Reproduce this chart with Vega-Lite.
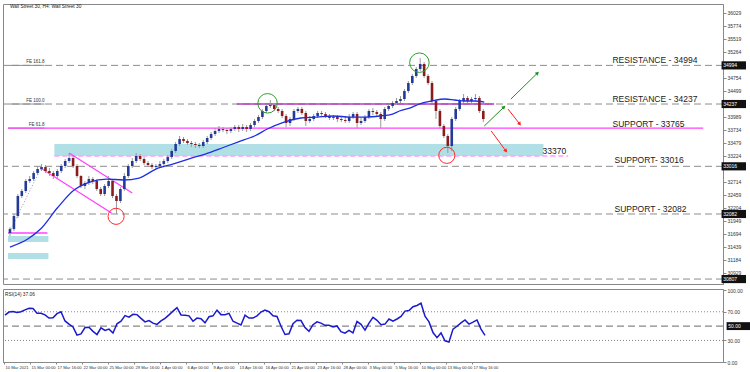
{
"$schema": "https://vega.github.io/schema/vega-lite/v6.json",
"padding": {"left": 1, "top": 3, "right": 0, "bottom": 0},
"background": "white",
"spacing": 2,
"config": {"view": {"stroke": "#888", "strokeWidth": 1}, "font": "Liberation Sans", "axis": {"labelFont": "Liberation Sans", "labelOverlap": false, "labelSeparation": 0}},
"datasets": {
"candles": [
{"i":0,"o":31709,"h":31826,"l":31650,"c":31787},{"i":1,"o":31787,"h":32081,"l":31748,"c":32042},{"i":2,"o":32042,"h":32473,"l":32003,"c":32434},{"i":3,"o":32434,"h":32571,"l":32395,"c":32532},{"i":4,"o":32532,"h":32767,"l":32493,"c":32728},{"i":5,"o":32728,"h":32826,"l":32689,"c":32767},{"i":6,"o":32767,"h":32924,"l":32728,"c":32885},{"i":7,"o":32885,"h":33022,"l":32846,"c":32963},{"i":8,"o":32963,"h":33061,"l":32924,"c":33002},{"i":9,"o":33002,"h":33042,"l":32885,"c":32924},
{"i":10,"o":32924,"h":32983,"l":32826,"c":32885},{"i":11,"o":32885,"h":32924,"l":32767,"c":32826},{"i":12,"o":32826,"h":32963,"l":32787,"c":32924},{"i":13,"o":32924,"h":33061,"l":32885,"c":33022},{"i":14,"o":33022,"h":33159,"l":32983,"c":33120},{"i":15,"o":33120,"h":33277,"l":33081,"c":33179},{"i":16,"o":33179,"h":33218,"l":32983,"c":33022},{"i":17,"o":33022,"h":33061,"l":32787,"c":32826},{"i":18,"o":32826,"h":32846,"l":32591,"c":32630},{"i":19,"o":32630,"h":32728,"l":32571,"c":32689},
{"i":20,"o":32689,"h":32826,"l":32650,"c":32767},{"i":21,"o":32767,"h":32806,"l":32669,"c":32728},{"i":22,"o":32728,"h":32767,"l":32532,"c":32571},{"i":23,"o":32571,"h":32610,"l":32434,"c":32473},{"i":24,"o":32473,"h":32669,"l":32434,"c":32630},{"i":25,"o":32630,"h":32826,"l":32591,"c":32728},{"i":26,"o":32728,"h":32767,"l":32395,"c":32434},{"i":27,"o":32434,"h":32473,"l":32081,"c":32336},{"i":28,"o":32336,"h":32610,"l":32297,"c":32571},{"i":29,"o":32571,"h":32885,"l":32532,"c":32826},
{"i":30,"o":32826,"h":33061,"l":32787,"c":33022},{"i":31,"o":33022,"h":33179,"l":32983,"c":33120},{"i":32,"o":33120,"h":33277,"l":33081,"c":33218},{"i":33,"o":33218,"h":33257,"l":33120,"c":33159},{"i":34,"o":33159,"h":33198,"l":33042,"c":33081},{"i":35,"o":33081,"h":33120,"l":33002,"c":33042},{"i":36,"o":33042,"h":33081,"l":32963,"c":33002},{"i":37,"o":33002,"h":33061,"l":32963,"c":33022},{"i":38,"o":33022,"h":33120,"l":32983,"c":33061},{"i":39,"o":33061,"h":33159,"l":33022,"c":33120},
{"i":40,"o":33120,"h":33238,"l":33081,"c":33198},{"i":41,"o":33198,"h":33355,"l":33159,"c":33316},{"i":42,"o":33316,"h":33492,"l":33277,"c":33453},{"i":43,"o":33453,"h":33610,"l":33414,"c":33551},{"i":44,"o":33551,"h":33590,"l":33473,"c":33512},{"i":45,"o":33512,"h":33551,"l":33434,"c":33473},{"i":46,"o":33473,"h":33512,"l":33394,"c":33453},{"i":47,"o":33453,"h":33492,"l":33375,"c":33434},{"i":48,"o":33434,"h":33473,"l":33375,"c":33414},{"i":49,"o":33414,"h":33532,"l":33375,"c":33492},
{"i":50,"o":33492,"h":33610,"l":33453,"c":33571},{"i":51,"o":33571,"h":33688,"l":33532,"c":33649},{"i":52,"o":33649,"h":33767,"l":33610,"c":33708},{"i":53,"o":33708,"h":33806,"l":33669,"c":33747},{"i":54,"o":33747,"h":33786,"l":33688,"c":33728},{"i":55,"o":33728,"h":33767,"l":33649,"c":33708},{"i":56,"o":33708,"h":33786,"l":33669,"c":33747},{"i":57,"o":33747,"h":33826,"l":33708,"c":33786},{"i":58,"o":33786,"h":33826,"l":33688,"c":33747},{"i":59,"o":33747,"h":33845,"l":33708,"c":33786},
{"i":60,"o":33786,"h":33826,"l":33688,"c":33747},{"i":61,"o":33747,"h":33865,"l":33708,"c":33826},{"i":62,"o":33826,"h":33943,"l":33786,"c":33904},{"i":63,"o":33904,"h":34022,"l":33865,"c":33982},{"i":64,"o":33982,"h":34139,"l":33943,"c":34100},{"i":65,"o":34100,"h":34237,"l":34061,"c":34198},{"i":66,"o":34198,"h":34316,"l":34159,"c":34218},{"i":67,"o":34218,"h":34257,"l":34100,"c":34139},{"i":68,"o":34139,"h":34178,"l":34061,"c":34100},{"i":69,"o":34100,"h":34139,"l":33963,"c":34002},
{"i":70,"o":34002,"h":34041,"l":33786,"c":33865},{"i":71,"o":33865,"h":33982,"l":33806,"c":33943},{"i":72,"o":33943,"h":34139,"l":33904,"c":34100},{"i":73,"o":34100,"h":34178,"l":34061,"c":34139},{"i":74,"o":34139,"h":34178,"l":34022,"c":34061},{"i":75,"o":34061,"h":34100,"l":33806,"c":33904},{"i":76,"o":33904,"h":34002,"l":33865,"c":33943},{"i":77,"o":33943,"h":34041,"l":33904,"c":34002},{"i":78,"o":34002,"h":34100,"l":33963,"c":34061},{"i":79,"o":34061,"h":34100,"l":34002,"c":34041},
{"i":80,"o":34041,"h":34080,"l":33963,"c":34002},{"i":81,"o":34002,"h":34041,"l":33924,"c":33963},{"i":82,"o":33963,"h":34022,"l":33924,"c":33982},{"i":83,"o":33982,"h":34022,"l":33884,"c":33943},{"i":84,"o":33943,"h":33982,"l":33884,"c":33924},{"i":85,"o":33924,"h":34002,"l":33865,"c":33904},{"i":86,"o":33904,"h":34041,"l":33865,"c":33982},{"i":87,"o":33982,"h":34080,"l":33943,"c":34041},{"i":88,"o":34041,"h":34080,"l":33767,"c":33865},{"i":89,"o":33865,"h":33963,"l":33826,"c":33904},
{"i":90,"o":33904,"h":34022,"l":33865,"c":33982},{"i":91,"o":33982,"h":34139,"l":33943,"c":34100},{"i":92,"o":34100,"h":34159,"l":34022,"c":34080},{"i":93,"o":34080,"h":34120,"l":33982,"c":34041},{"i":94,"o":34041,"h":34080,"l":33767,"c":33943},{"i":95,"o":33943,"h":34178,"l":33904,"c":34139},{"i":96,"o":34139,"h":34237,"l":34100,"c":34198},{"i":97,"o":34198,"h":34296,"l":34159,"c":34257},{"i":98,"o":34257,"h":34355,"l":34218,"c":34296},{"i":99,"o":34296,"h":34394,"l":34257,"c":34335},
{"i":100,"o":34335,"h":34531,"l":34296,"c":34492},{"i":101,"o":34492,"h":34688,"l":34453,"c":34649},{"i":102,"o":34649,"h":34825,"l":34610,"c":34786},{"i":103,"o":34786,"h":34962,"l":34747,"c":34923},{"i":104,"o":34923,"h":35139,"l":34884,"c":35021},{"i":105,"o":35021,"h":35060,"l":34747,"c":34786},{"i":106,"o":34786,"h":34825,"l":34610,"c":34649},{"i":107,"o":34649,"h":34688,"l":34257,"c":34296},{"i":108,"o":34296,"h":34335,"l":33943,"c":34100},{"i":109,"o":34100,"h":34139,"l":33767,"c":33806},
{"i":110,"o":33806,"h":33845,"l":33571,"c":33610},{"i":111,"o":33610,"h":33649,"l":33277,"c":33414},{"i":112,"o":33414,"h":33982,"l":33316,"c":33943},{"i":113,"o":33943,"h":34178,"l":33904,"c":34139},{"i":114,"o":34139,"h":34335,"l":34100,"c":34296},{"i":115,"o":34296,"h":34433,"l":34257,"c":34355},{"i":116,"o":34355,"h":34394,"l":34257,"c":34296},{"i":117,"o":34296,"h":34374,"l":34257,"c":34335},{"i":118,"o":34335,"h":34433,"l":34296,"c":34355},{"i":119,"o":34355,"h":34394,"l":34061,"c":34100},
{"i":120,"o":34100,"h":34139,"l":33884,"c":33943}
],
"ma": [
{"i":0,"p":31434},{"i":4.5,"p":31591},{"i":7.75,"p":31787},{"i":12,"p":32199},{"i":16.25,"p":32552},{"i":20.25,"p":32708},{"i":24.5,"p":32767},{"i":28.75,"p":32748},{"i":32.75,"p":32787},{"i":37,"p":32963},{"i":41.25,"p":33061},{"i":45.25,"p":33159},{"i":49.5,"p":33257},{"i":53.75,"p":33375},{"i":57.75,"p":33492},{"i":62,"p":33610},{"i":65.25,"p":33747},{"i":69.5,"p":33884},{"i":73.75,"p":33963},{"i":77.75,"p":33982},{"i":82,"p":34002},{"i":86.25,"p":33982},{"i":90.25,"p":33982},{"i":93.75,"p":34002},{"i":97,"p":34041},{"i":98.75,"p":34100},{"i":102,"p":34178},{"i":103.75,"p":34237},{"i":107,"p":34296},{"i":110.25,"p":34335},{"i":112.75,"p":34316},{"i":115.25,"p":34296},{"i":117.75,"p":34296},{"i":120.25,"p":34276}
],
"rsi": [
{"i":0,"v":65.2},{"i":1,"v":69.6},{"i":2,"v":70.4},{"i":3,"v":69.1},{"i":4,"v":70.0},{"i":5,"v":72.6},{"i":6,"v":74.8},{"i":7,"v":74.4},{"i":8,"v":67.8},{"i":9,"v":67.8},
{"i":10,"v":65.6},{"i":11,"v":61.2},{"i":12,"v":61.6},{"i":13,"v":67.4},{"i":14,"v":70.0},{"i":15,"v":57.2},{"i":16,"v":52.8},{"i":17,"v":48.9},{"i":18,"v":37.4},{"i":19,"v":39.2},
{"i":20,"v":48.0},{"i":21,"v":48.4},{"i":22,"v":42.7},{"i":23,"v":38.3},{"i":24,"v":47.6},{"i":25,"v":44.0},{"i":26,"v":45.8},{"i":27,"v":40.5},{"i":28,"v":53.3},{"i":29,"v":56.8},
{"i":30,"v":64.7},{"i":31,"v":62.5},{"i":32,"v":66.5},{"i":33,"v":66.0},{"i":34,"v":60.8},{"i":35,"v":55.9},{"i":36,"v":57.7},{"i":37,"v":54.2},{"i":38,"v":52.4},{"i":39,"v":57.2},
{"i":40,"v":60.8},{"i":41,"v":65.6},{"i":42,"v":70.9},{"i":43,"v":75.7},{"i":44,"v":65.6},{"i":45,"v":65.2},{"i":46,"v":64.3},{"i":47,"v":56.8},{"i":48,"v":61.2},{"i":49,"v":60.3},
{"i":50,"v":54.6},{"i":51,"v":63.0},{"i":52,"v":64.3},{"i":53,"v":72.2},{"i":54,"v":66.0},{"i":55,"v":66.0},{"i":56,"v":67.8},{"i":57,"v":56.8},{"i":58,"v":54.2},{"i":59,"v":51.5},
{"i":60,"v":65.2},{"i":61,"v":61.2},{"i":62,"v":61.2},{"i":63,"v":64.3},{"i":64,"v":69.6},{"i":65,"v":72.2},{"i":66,"v":70.0},{"i":67,"v":64.3},{"i":68,"v":63.4},{"i":69,"v":49.8},
{"i":70,"v":38.3},{"i":71,"v":39.2},{"i":72,"v":53.3},{"i":73,"v":58.1},{"i":74,"v":57.7},{"i":75,"v":48.0},{"i":76,"v":42.7},{"i":77,"v":52.0},{"i":78,"v":55.9},{"i":79,"v":54.2},
{"i":80,"v":51.1},{"i":81,"v":51.1},{"i":82,"v":48.9},{"i":83,"v":50.2},{"i":84,"v":42.3},{"i":85,"v":40.1},{"i":86,"v":44.0},{"i":87,"v":40.5},{"i":88,"v":56.4},{"i":89,"v":52.4},
{"i":90,"v":44.5},{"i":91,"v":54.2},{"i":92,"v":62.1},{"i":93,"v":58.1},{"i":94,"v":52.0},{"i":95,"v":52.8},{"i":96,"v":59.9},{"i":97,"v":56.8},{"i":98,"v":59.9},{"i":99,"v":63.4},
{"i":100,"v":70.9},{"i":101,"v":71.8},{"i":102,"v":77.0},{"i":103,"v":78.8},{"i":104,"v":81.9},{"i":105,"v":63.8},{"i":106,"v":55.9},{"i":107,"v":41.0},{"i":108,"v":33.9},{"i":109,"v":40.5},
{"i":110,"v":29.5},{"i":111,"v":27.8},{"i":112,"v":45.8},{"i":113,"v":49.8},{"i":114,"v":54.6},{"i":115,"v":58.6},{"i":116,"v":52.8},{"i":117,"v":55.5},{"i":118,"v":58.6},{"i":119,"v":45.8},
{"i":120,"v":37.1}
],
"levels": [{"p":34994},{"p":34237},{"p":33016},{"p":32082},{"p":30807}],
"hl": [{"p":34994,"t":"34994"},{"p":34237,"t":"34237"},{"p":33016,"t":"33016"},{"p":32082,"t":"32082"},{"p":30807,"t":"30807"}],
"fe": [{"i":-0.5,"i2":8.75,"p":34994,"t":"FE 161.8"},{"i":-0.5,"i2":8.75,"p":34237,"t":"FE 100.0"},{"i":-0.5,"i2":8.75,"p":33765,"t":"FE 61.8"}],
"cyan": [{"i":11.25,"i2":135.25,"p":33453,"p2":33218},{"i":-0.5,"i2":9.75,"p":31650,"p2":31532},{"i":-0.5,"i2":9.75,"p":31317,"p2":31199}],
"pinkdash": [{"i":11.25,"i2":141.5,"p":33218,"p2":33218}],
"magenta": [{"i":-0.5,"i2":175.75,"p":33765,"p2":33765},{"i":-0.5,"i2":9.5,"p":31709,"p2":31709},{"i":15,"i2":31,"p":33277,"p2":32493},{"i":7.75,"i2":25.75,"p":32983,"p2":32101}],
"purple": [{"i":57.5,"i2":122.75,"p":34237,"p2":34237}],
"dotted": [{"i":0.25,"i2":7.75,"p":31787,"p2":32963}],
"garrow": [{"i":120.25,"p":33806,"i2":125.25,"p2":34178},{"i":127,"p":34335,"i2":133.75,"p2":34845}],
"rarrow": [{"i":126.25,"p":34139,"i2":129.25,"p2":33845},{"i":122,"p":33708,"i2":125.75,"p2":33316}],
"gcircle": [{"i":65.3,"p":34251},{"i":103.8,"p":35047}],
"rcircle": [{"i":26.9,"p":32036},{"i":110.75,"p":33231}],
"labels": [{"i":152.75,"p":35100,"t":"RESISTANCE - 34994"},{"i":152.75,"p":34335,"t":"RESISTANCE - 34237"},{"i":152.75,"p":33851,"t":"SUPPORT - 33765"},{"i":153.25,"p":33134,"t":"SUPPORT- 33016"},{"i":153.25,"p":32179,"t":"SUPPORT - 32082"},{"i":135,"p":33316,"t":"33370"}],
"title": [{"i":0,"p":36140,"t":"Wall Street 30, H4: Wall Street 30"}],
"rsilevels": [{"v":70},{"v":30}],
"rsimid": [{"v":50,"t":"50.00"}],
"rsititle": [{"i":0,"v":94,"t":"RSI(14) 37.06"}]
},
"vconcat": [
{
"width": 720, "height": 280,
"layer": [
{"data": {"name": "cyan"}, "mark": {"type": "rect", "color": "#b0e0e6"},
 "encoding": {"x": {"field": "i", "type": "quantitative", "scale": {"domain": [-0.5, 179.5], "nice": false, "zero": false}, "axis": null}, "x2": {"field": "i2"},
  "y": {"field": "p", "type": "quantitative", "scale": {"domain": [30710, 36197], "nice": false, "zero": false},
   "axis": {"orient": "right", "title": null, "grid": false, "tickCount": 100, "values": [36029,35774,35519,35264,34754,34499,33989,33734,33479,33224,32714,32459,32204,31949,31694,31439,31184,30929], "format": "d", "labelFontSize": 5, "tickSize": 3, "labelPadding": 1, "domainColor": "#888", "tickColor": "#888", "labelColor": "#333", "labelFlush": false, "labelOverlap": false}},
  "y2": {"field": "p2"}}},
{"data": {"name": "levels"}, "mark": {"type": "rule", "color": "#8c8c8c", "strokeDash": [7, 4], "strokeWidth": 1},
 "encoding": {"y": {"field": "p", "type": "quantitative"}}},
{"data": {"name": "fe"}, "mark": {"type": "rule", "color": "#8c8c8c", "strokeWidth": 1},
 "encoding": {"x": {"field": "i", "type": "quantitative"}, "x2": {"field": "i2"}, "y": {"field": "p", "type": "quantitative"}}},
{"data": {"name": "fe"}, "mark": {"type": "text", "align": "right", "baseline": "bottom", "fontSize": 4.5, "color": "#333", "dy": -1},
 "encoding": {"x": {"field": "i2", "type": "quantitative"}, "y": {"field": "p", "type": "quantitative"}, "text": {"field": "t"}}},
{"data": {"name": "pinkdash"}, "mark": {"type": "rule", "color": "#ff9cff", "strokeDash": [5, 3], "strokeWidth": 1.5},
 "encoding": {"x": {"field": "i", "type": "quantitative"}, "x2": {"field": "i2"}, "y": {"field": "p", "type": "quantitative"}, "y2": {"field": "p2"}}},
{"data": {"name": "magenta"}, "mark": {"type": "rule", "color": "#ff40ff", "strokeWidth": 1.3},
 "encoding": {"x": {"field": "i", "type": "quantitative"}, "x2": {"field": "i2"}, "y": {"field": "p", "type": "quantitative"}, "y2": {"field": "p2"}}},
{"data": {"name": "purple"}, "mark": {"type": "rule", "color": "#b53cc0", "strokeWidth": 1.5},
 "encoding": {"x": {"field": "i", "type": "quantitative"}, "x2": {"field": "i2"}, "y": {"field": "p", "type": "quantitative"}, "y2": {"field": "p2"}}},
{"data": {"name": "dotted"}, "mark": {"type": "rule", "color": "#999", "strokeDash": [1, 2], "strokeWidth": 1},
 "encoding": {"x": {"field": "i", "type": "quantitative"}, "x2": {"field": "i2"}, "y": {"field": "p", "type": "quantitative"}, "y2": {"field": "p2"}}},
{"data": {"name": "candles"}, "mark": {"type": "rule", "color": "#9a9a9a", "strokeWidth": 1},
 "encoding": {"x": {"field": "i", "type": "quantitative"}, "y": {"field": "l", "type": "quantitative"}, "y2": {"field": "h"}}},
{"data": {"name": "candles"}, "mark": {"type": "bar", "size": 2.6},
 "encoding": {"x": {"field": "i", "type": "quantitative"}, "y": {"field": "o", "type": "quantitative"}, "y2": {"field": "c"},
  "color": {"condition": {"test": "datum.c >= datum.o", "value": "#233a99"}, "value": "#8b1c1c"}}},
{"data": {"name": "ma"}, "mark": {"type": "line", "color": "#1f2fe0", "strokeWidth": 1.3, "interpolate": "monotone"},
 "encoding": {"x": {"field": "i", "type": "quantitative"}, "y": {"field": "p", "type": "quantitative"}}},
{"data": {"name": "gcircle"}, "mark": {"type": "point", "shape": "circle", "filled": false, "size": 380, "color": "#2e9e2e", "strokeWidth": 1, "opacity": 1},
 "encoding": {"x": {"field": "i", "type": "quantitative"}, "y": {"field": "p", "type": "quantitative"}}},
{"data": {"name": "rcircle"}, "mark": {"type": "point", "shape": "circle", "filled": false, "size": 260, "color": "#ff2a2a", "strokeWidth": 1, "opacity": 1},
 "encoding": {"x": {"field": "i", "type": "quantitative"}, "y": {"field": "p", "type": "quantitative"}}},
{"data": {"name": "garrow"}, "mark": {"type": "rule", "color": "#1f8f1f", "strokeWidth": 1},
 "encoding": {"x": {"field": "i", "type": "quantitative"}, "x2": {"field": "i2"}, "y": {"field": "p", "type": "quantitative"}, "y2": {"field": "p2"}}},
{"data": {"name": "garrow"}, "mark": {"type": "point", "shape": "triangle-up", "filled": true, "size": 18, "angle": 48, "color": "#1f8f1f", "opacity": 1},
 "encoding": {"x": {"field": "i2", "type": "quantitative"}, "y": {"field": "p2", "type": "quantitative"}}},
{"data": {"name": "rarrow"}, "mark": {"type": "rule", "color": "#ff2020", "strokeWidth": 1},
 "encoding": {"x": {"field": "i", "type": "quantitative"}, "x2": {"field": "i2"}, "y": {"field": "p", "type": "quantitative"}, "y2": {"field": "p2"}}},
{"data": {"name": "rarrow"}, "mark": {"type": "point", "shape": "triangle-up", "filled": true, "size": 18, "angle": 142, "color": "#ff2020", "opacity": 1},
 "encoding": {"x": {"field": "i2", "type": "quantitative"}, "y": {"field": "p2", "type": "quantitative"}}},
{"data": {"name": "labels"}, "mark": {"type": "text", "align": "left", "baseline": "middle", "fontSize": 8.5, "color": "#1a1a1a"},
 "encoding": {"x": {"field": "i", "type": "quantitative"}, "y": {"field": "p", "type": "quantitative"}, "text": {"field": "t"}}},
{"data": {"name": "title"}, "mark": {"type": "text", "align": "left", "baseline": "middle", "fontSize": 4.8, "color": "#222"},
 "encoding": {"x": {"field": "i", "type": "quantitative"}, "y": {"field": "p", "type": "quantitative"}, "text": {"field": "t"}}},
{"data": {"name": "hl"}, "mark": {"type": "rect", "color": "#111"},
 "encoding": {"x": {"datum": 180.4, "type": "quantitative"}, "x2": {"datum": 186.6}, "y": {"field": "a", "type": "quantitative"}, "y2": {"field": "b"}},
 "transform": [{"calculate": "datum.p + 80", "as": "a"}, {"calculate": "datum.p - 80", "as": "b"}]},
{"data": {"name": "hl"}, "mark": {"type": "text", "align": "left", "baseline": "middle", "fontSize": 5, "color": "white"},
 "encoding": {"x": {"datum": 180.8, "type": "quantitative"}, "y": {"field": "p", "type": "quantitative"}, "text": {"field": "t"}}}
]
},
{
"width": 720, "height": 73,
"layer": [
{"data": {"name": "rsilevels"}, "mark": {"type": "rule", "color": "#888", "strokeDash": [1, 2], "strokeWidth": 1},
 "encoding": {"y": {"field": "v", "type": "quantitative", "scale": {"domain": [0, 101.7], "nice": false, "zero": false},
   "axis": {"orient": "right", "title": null, "grid": false, "tickCount": 100, "values": [0, 30, 70, 100], "format": ".2f", "labelFontSize": 5, "tickSize": 3, "labelPadding": 1, "domainColor": "#888", "tickColor": "#888", "labelColor": "#333", "labelFlush": false, "labelOverlap": false}}}},
{"data": {"name": "rsimid"}, "mark": {"type": "rule", "color": "#888", "strokeDash": [7, 4], "strokeWidth": 1.2},
 "encoding": {"y": {"field": "v", "type": "quantitative"}}},
{"data": {"name": "rsi"}, "mark": {"type": "line", "color": "#1a1acc", "strokeWidth": 1.5},
 "encoding": {"x": {"field": "i", "type": "quantitative", "scale": {"domain": [-0.5, 179.5], "nice": false, "zero": false},
   "axis": {"orient": "bottom", "title": null, "grid": false, "tickCount": 100, "values": [-0.25,6.25,12.75,19.25,25.75,32.25,38.75,45.25,51.75,58.25,64.75,71.25,77.75,84.25,90.75,97.25,103.75,110.25,116.75],
    "labelExpr": "['10 Mar 2021','15 Mar 00:00','17 Mar 16:00','22 Mar 00:00','25 Mar 00:00','29 Mar 16:00','1 Apr 00:00','6 Apr 00:00','9 Apr 00:00','13 Apr 16:00','16 Apr 00:00','21 Apr 00:00','23 Apr 16:00','28 Apr 00:00','3 May 00:00','5 May 16:00','10 May 00:00','13 May 00:00','17 May 16:00'][round((datum.value + 0.25) / 6.5)]",
    "labelAlign": "left", "labelFontSize": 4.1, "labelOffset": 1, "tickSize": 2, "labelPadding": 1, "domainColor": "#888", "tickColor": "#888", "labelColor": "#333", "labelFlush": false, "labelOverlap": false}},
  "y": {"field": "v", "type": "quantitative"}}},
{"data": {"name": "rsititle"}, "mark": {"type": "text", "align": "left", "baseline": "middle", "fontSize": 4.8, "color": "#222"},
 "encoding": {"x": {"field": "i", "type": "quantitative"}, "y": {"field": "v", "type": "quantitative"}, "text": {"field": "t"}}},
{"data": {"name": "rsimid"}, "mark": {"type": "rect", "color": "#111"},
 "encoding": {"x": {"datum": 180.4, "type": "quantitative"}, "x2": {"datum": 186.6}, "y": {"field": "a", "type": "quantitative"}, "y2": {"field": "b"}},
 "transform": [{"calculate": "datum.v + 5.5", "as": "a"}, {"calculate": "datum.v - 5.5", "as": "b"}]},
{"data": {"name": "rsimid"}, "mark": {"type": "text", "align": "left", "baseline": "middle", "fontSize": 5, "color": "white"},
 "encoding": {"x": {"datum": 180.8, "type": "quantitative"}, "y": {"field": "v", "type": "quantitative"}, "text": {"field": "t"}}}
]
}
]
}
